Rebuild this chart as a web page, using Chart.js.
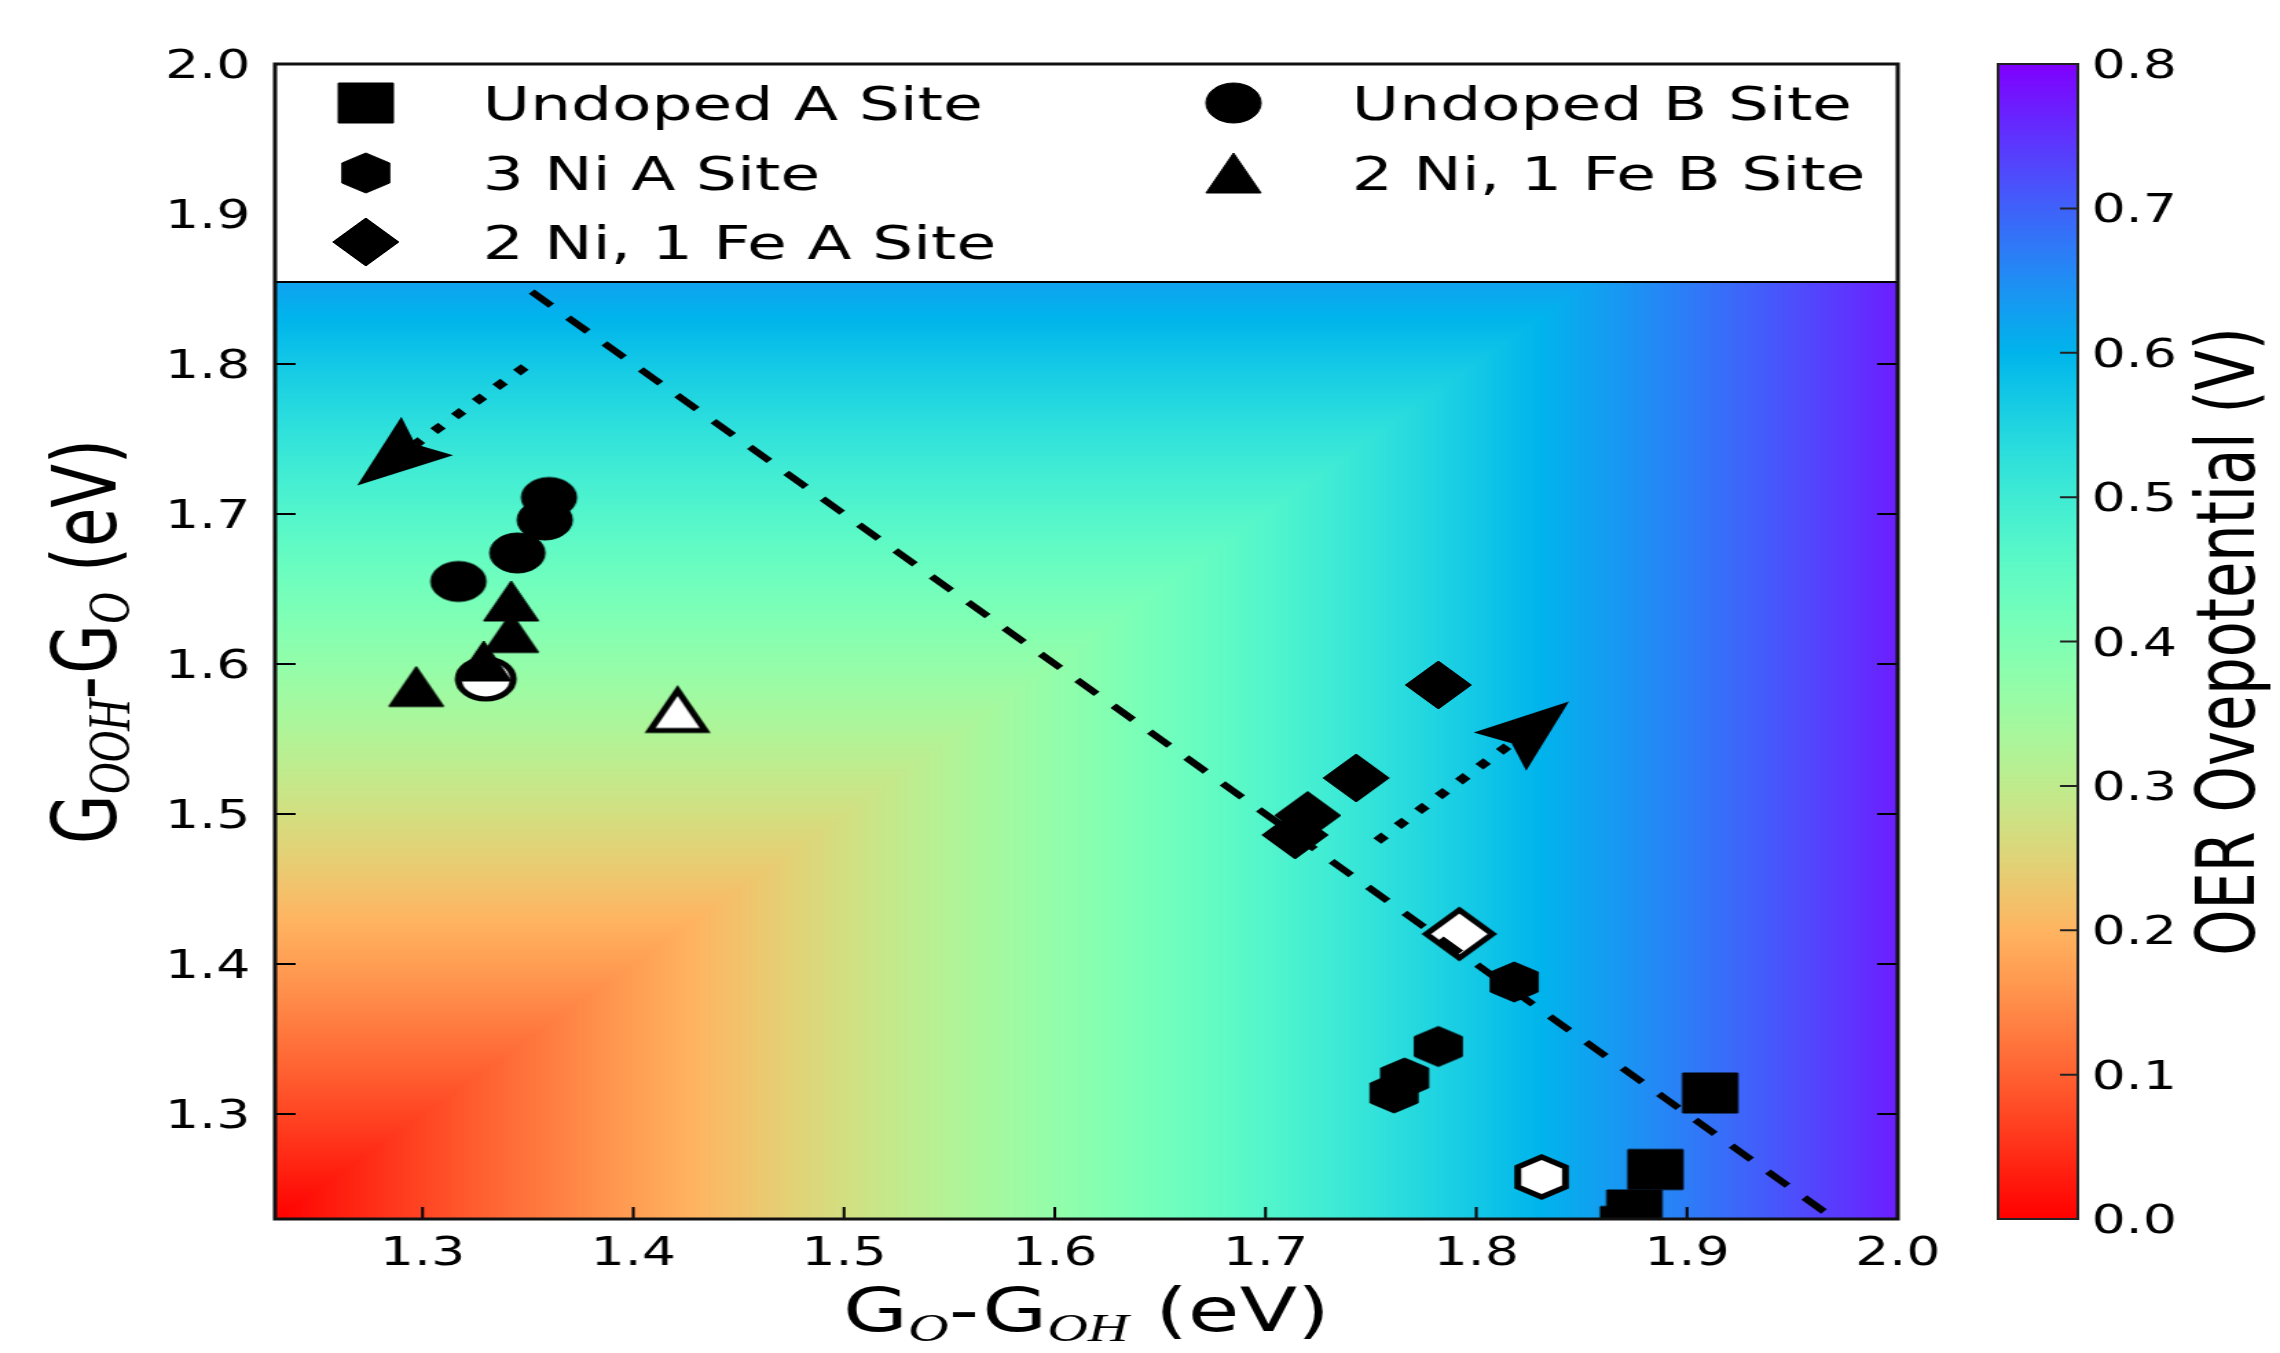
<!DOCTYPE html>
<html lang="en">
<head>
<meta charset="UTF-8">
<title>OER overpotential map</title>
<script src="https://cdn.jsdelivr.net/npm/chart.js@4.4.1/dist/chart.umd.min.js"></script>
<style>
  html, body { margin: 0; padding: 0; background: #fff; overflow: hidden; }
  /* the reference figure is stretched horizontally, so draw at 1658 wide and stretch */
  #wrap { width: 1658px; height: 1353px; transform: scaleX(1.37515); transform-origin: 0 0; }
</style>
</head>
<body>
<div id="wrap"><canvas id="chart"></canvas></div>
<script>
// ─── data (eV) ────────────────────────────────────────────────────────────────
const xTicks  = [1.3, 1.4, 1.5, 1.6, 1.7, 1.8, 1.9, 2.0];
const yTicks  = [1.3, 1.4, 1.5, 1.6, 1.7, 1.8, 1.9, 2.0];
const cbTicks = [0.0, 0.1, 0.2, 0.3, 0.4, 0.5, 0.6, 0.7, 0.8];

// [G_O - G_OH, G_OOH - G_O]
const undopedA = [[1.911, 1.314], [1.885, 1.263], [1.875, 1.236], [1.872, 1.225]];
const undopedB = [[1.360, 1.711], [1.358, 1.696], [1.345, 1.674], [1.317, 1.655]];
const threeNiA = [[1.818, 1.388], [1.782, 1.345], [1.766, 1.324], [1.761, 1.314]];
const niFeA    = [[1.782, 1.586], [1.743, 1.524], [1.720, 1.499], [1.714, 1.486]];
const niFeB    = [[1.342, 1.642], [1.342, 1.621], [1.297, 1.585], [1.329, 1.602]];

// hollow markers
const undopedBOpen = [[1.330, 1.590]];
const niFeBOpen    = [[1.421, 1.569]];
const niFeAOpen    = [[1.792, 1.420]];
const threeNiAOpen = [[1.831, 1.258]];

// dashed scaling line and the two dotted arrows
const scalingX = [1.30, 1.97];
const scalingY = [1.90, 1.23];
const arrowTail = [[1.3485, 1.798], [1.753, 1.482]];
const arrowTip  = [[1.269, 1.719], [1.844, 1.575]];

const U0 = 1.23;      // equilibrium potential, V
const ETA_MAX = 0.8;  // colour bar top

// ─── helpers ──────────────────────────────────────────────────────────────────
const FONT = '"DejaVu Sans", sans-serif';
const SUBFONT = '"Liberation Serif", "DejaVu Serif", serif';

function rainbowR(eta) {
  const t = 1 - Math.min(Math.max(eta / ETA_MAX, 0), 1);
  return [
    Math.min(1, Math.abs(2 * t - 0.5)) * 255,
    Math.sin(Math.PI * t) * 255,
    Math.cos(Math.PI * t / 2) * 255,
  ];
}

function markerCanvas(shape, open) {
  const size = 60;
  const c = document.createElement('canvas');
  c.width = c.height = size;
  const g = c.getContext('2d');
  g.translate(size / 2, size / 2);
  g.beginPath();
  if (shape === 'square') g.rect(-20, -20, 40, 40);
  else if (shape === 'circle') g.arc(0, 0, 20, 0, Math.PI * 2);
  else if (shape === 'triangle') { g.moveTo(0, -20); g.lineTo(20, 20); g.lineTo(-20, 20); g.closePath(); }
  else if (shape === 'diamond') { g.moveTo(0, -24); g.lineTo(24, 0); g.lineTo(0, 24); g.lineTo(-24, 0); g.closePath(); }
  else if (shape === 'hexagon') {
    for (let k = 0; k < 6; k++) {
      const a = -Math.PI / 2 + k * Math.PI / 3;
      g[k ? 'lineTo' : 'moveTo'](20 * Math.cos(a), 20 * Math.sin(a));
    }
    g.closePath();
  }
  g.fillStyle = open ? '#fff' : '#000';
  g.fill();
  g.lineWidth = open ? 5 : 1;
  g.strokeStyle = '#000';
  g.stroke();
  return c;
}

const pts = arr => arr.map(([x, y]) => ({ x, y }));

function scatterSet(label, data, shape, open, order) {
  return {
    type: 'scatter', label, data: pts(data),
    pointStyle: markerCanvas(shape, open), pointRadius: 20,
    showInLegend: !open, order, clip: 0,
  };
}

// rich text: segments [text, isSub]
function richWidth(ctx, segs, size) {
  let w = 0;
  for (const [t, sub] of segs) {
    ctx.font = sub ? `italic ${Math.round(size * 0.68)}px ${SUBFONT}` : `${size}px ${FONT}`;
    w += ctx.measureText(t).width;
  }
  return w;
}
function drawRich(ctx, segs, size, cx, baseline) {
  let x = cx - richWidth(ctx, segs, size) / 2;
  ctx.textAlign = 'left';
  ctx.textBaseline = 'alphabetic';
  for (const [t, sub] of segs) {
    ctx.font = sub ? `italic ${Math.round(size * 0.68)}px ${SUBFONT}` : `${size}px ${FONT}`;
    ctx.fillText(t, x, baseline + (sub ? size * 0.16 : 0));
    x += ctx.measureText(t).width;
  }
}

function drawArrow(ctx, x0, y0, x1, y1) {
  const L = Math.hypot(x1 - x0, y1 - y0), ux = (x1 - x0) / L, uy = (y1 - y0) / L;
  const head = 71, half = 27, notch = 12;
  const bx = x1 - ux * head, by = y1 - uy * head;
  ctx.save();
  ctx.strokeStyle = ctx.fillStyle = '#000';
  ctx.lineWidth = 8;
  ctx.setLineDash([8, 13]);
  ctx.beginPath();
  ctx.moveTo(x0, y0);
  ctx.lineTo(bx + ux * notch, by + uy * notch);
  ctx.stroke();
  ctx.setLineDash([]);
  ctx.beginPath();
  ctx.moveTo(x1, y1);
  ctx.lineTo(bx - uy * half, by + ux * half);
  ctx.lineTo(bx + ux * notch, by + uy * notch);
  ctx.lineTo(bx + uy * half, by - ux * half);
  ctx.closePath();
  ctx.fill();
  ctx.restore();
}

// ─── plugin: heat map, legend, frame, colour bar, texts ──────────────────────
const oerMap = {
  id: 'oerMap',
  beforeDatasetsDraw(chart) {
    const { ctx, chartArea: a, scales: { x, y } } = chart;
    const w = Math.round(a.right - a.left), h = Math.round(a.bottom - a.top);
    const off = document.createElement('canvas');
    off.width = w; off.height = h;
    const octx = off.getContext('2d');
    const img = octx.createImageData(w, h);
    const xs = [], ys = [];
    for (let i = 0; i < w; i++) xs.push(x.getValueForPixel(a.left + i + 0.5));
    for (let j = 0; j < h; j++) ys.push(y.getValueForPixel(a.top + j + 0.5));
    let p = 0;
    for (let j = 0; j < h; j++) {
      for (let i = 0; i < w; i++) {
        const c = rainbowR(Math.max(xs[i], ys[j]) - U0);
        img.data[p++] = c[0]; img.data[p++] = c[1]; img.data[p++] = c[2]; img.data[p++] = 255;
      }
    }
    octx.putImageData(img, 0, 0);
    ctx.drawImage(off, a.left, a.top);
  },

  afterDatasetsDraw(chart) {
    const { ctx, chartArea: a, scales: { x, y } } = chart;

    // dotted arrows
    arrowTail.forEach((t, i) => {
      drawArrow(ctx, x.getPixelForValue(t[0]), y.getPixelForValue(t[1]),
        x.getPixelForValue(arrowTip[i][0]), y.getPixelForValue(arrowTip[i][1]));
    });

    // inward ticks
    ctx.save();
    ctx.strokeStyle = '#000';
    ctx.lineWidth = 2;
    ctx.beginPath();
    xTicks.forEach(v => {
      const px = x.getPixelForValue(v);
      ctx.moveTo(px, a.bottom); ctx.lineTo(px, a.bottom - 12);
    });
    yTicks.forEach(v => {
      const py = y.getPixelForValue(v);
      ctx.moveTo(a.left, py); ctx.lineTo(a.left + 15, py);
      ctx.moveTo(a.right, py); ctx.lineTo(a.right - 15, py);
    });
    ctx.stroke();

    // legend box across the top of the axes
    const lh = 218;
    ctx.fillStyle = '#fff';
    ctx.fillRect(a.left, a.top, a.right - a.left, lh);
    ctx.lineWidth = 2;
    ctx.strokeRect(a.left, a.top, a.right - a.left, lh);
    const entries = chart.data.datasets.filter(d => d.showInLegend);
    const cols = [[66, 151], [697, 783]];
    const rows = [39, 109, 178];
    ctx.fillStyle = '#000';
    ctx.font = `47px ${FONT}`;
    ctx.textAlign = 'left';
    ctx.textBaseline = 'alphabetic';
    entries.forEach((d, i) => {
      const col = i < 3 ? 0 : 1, row = i < 3 ? i : i - 3;
      const cy = a.top + rows[row];
      const m = d.pointStyle;
      ctx.drawImage(m, a.left + cols[col][0] - m.width / 2, cy - m.height / 2);
      ctx.fillText(d.label, a.left + cols[col][1], cy + 17);
    });

    // frame
    ctx.lineWidth = 3;
    ctx.strokeStyle = '#111';
    ctx.strokeRect(a.left, a.top, a.right - a.left, a.bottom - a.top);
    ctx.restore();
  },

  afterDraw(chart) {
    const { ctx, chartArea: a, scales: { x, y, cb } } = chart;
    ctx.save();
    ctx.fillStyle = '#000';

    // tick labels
    ctx.font = `39px ${FONT}`;
    ctx.textBaseline = 'alphabetic';
    ctx.textAlign = 'center';
    xTicks.forEach(v => ctx.fillText(v.toFixed(1), x.getPixelForValue(v), a.bottom + 46));
    ctx.textAlign = 'right';
    yTicks.forEach(v => ctx.fillText(v.toFixed(1), a.left - 18, y.getPixelForValue(v) + 14));

    // colour bar
    const bx = a.right + 73, bw = 58;
    const top = cb.getPixelForValue(ETA_MAX), bot = cb.getPixelForValue(0);
    for (let py = Math.floor(top); py < bot; py++) {
      const c = rainbowR(cb.getValueForPixel(py + 0.5));
      ctx.fillStyle = `rgb(${c[0] | 0},${c[1] | 0},${c[2] | 0})`;
      ctx.fillRect(bx, py, bw, 1);
    }
    ctx.strokeStyle = '#222';
    ctx.lineWidth = 2;
    ctx.strokeRect(bx, top, bw, bot - top);
    ctx.beginPath();
    cbTicks.slice(1, -1).forEach(v => {
      const py = cb.getPixelForValue(v);
      ctx.moveTo(bx + bw, py); ctx.lineTo(bx + bw - 13, py);
    });
    ctx.stroke();
    ctx.fillStyle = '#000';
    ctx.font = `39px ${FONT}`;
    ctx.textAlign = 'left';
    cbTicks.forEach(v => ctx.fillText(v.toFixed(1), bx + bw + 10, cb.getPixelForValue(v) + 14));

    // axis titles
    drawRich(ctx, [['G', 0], ['O', 1], ['-G', 0], ['OH', 1], [' (eV)', 0]], 61, (a.left + a.right) / 2, 1331);
    ctx.save();
    ctx.translate(84, (a.top + a.bottom) / 2);
    ctx.rotate(-Math.PI / 2);
    drawRich(ctx, [['G', 0], ['OOH', 1], ['-G', 0], ['O', 1], [' (eV)', 0]], 64, 0, 0);
    ctx.restore();

    ctx.save();
    ctx.translate(a.right + 259, (a.top + a.bottom) / 2);
    ctx.rotate(-Math.PI / 2);
    ctx.font = `59px ${FONT}`;
    ctx.textAlign = 'center';
    ctx.fillText('OER Ovepotential (V)', 0, 0);
    ctx.restore();

    ctx.restore();
  },
};

// ─── chart ────────────────────────────────────────────────────────────────────
const fixedTicks = list => s => { s.ticks = list.map(v => ({ value: v })); };
const hiddenAxis = {
  grid: { display: false }, border: { display: false }, ticks: { display: false },
};

new Chart(document.getElementById('chart'), {
  type: 'scatter',
  data: {
    datasets: [
      { type: 'line', label: 'scaling', data: scalingX.map((v, i) => ({ x: v, y: scalingY[i] })),
        borderColor: '#000', borderWidth: 6, borderDash: [20, 17], pointRadius: 0,
        showInLegend: false, order: 5, clip: 0 },
      scatterSet('Undoped B Site (open)', undopedBOpen, 'circle', true, 8),
      scatterSet('2 Ni, 1 Fe B Site (open)', niFeBOpen, 'triangle', true, 8),
      scatterSet('2 Ni, 1 Fe A Site (open)', niFeAOpen, 'diamond', true, 8),
      scatterSet('3 Ni A Site (open)', threeNiAOpen, 'hexagon', true, 8),
      scatterSet('Undoped A Site', undopedA, 'square', false, 4),
      scatterSet('3 Ni A Site', threeNiA, 'hexagon', false, 3),
      scatterSet('2 Ni, 1 Fe A Site', niFeA, 'diamond', false, 2),
      scatterSet('Undoped B Site', undopedB, 'circle', false, 1),
      scatterSet('2 Ni, 1 Fe B Site', niFeB, 'triangle', false, 0),
    ],
  },
  options: {
    responsive: true,
    maintainAspectRatio: false,
    animation: false,
    devicePixelRatio: 1,
    events: [],
    layout: { padding: { top: 64, left: 0, right: 0, bottom: 0 } },
    plugins: { legend: { display: false }, tooltip: { enabled: false } },
    scales: {
      x: { type: 'linear', position: 'bottom', min: 1.23, max: 2.0, ...hiddenAxis,
           afterBuildTicks: fixedTicks(xTicks), afterFit: s => { s.height = 134; } },
      y: { type: 'linear', position: 'left', min: 1.23, max: 2.0, ...hiddenAxis,
           afterBuildTicks: fixedTicks(yTicks), afterFit: s => { s.width = 200; } },
      cb: { type: 'linear', axis: 'y', position: 'right', min: 0, max: ETA_MAX, ...hiddenAxis,
            afterBuildTicks: fixedTicks(cbTicks), afterFit: s => { s.width = 278; } },
    },
  },
  plugins: [oerMap],
});
</script>
</body>
</html>
